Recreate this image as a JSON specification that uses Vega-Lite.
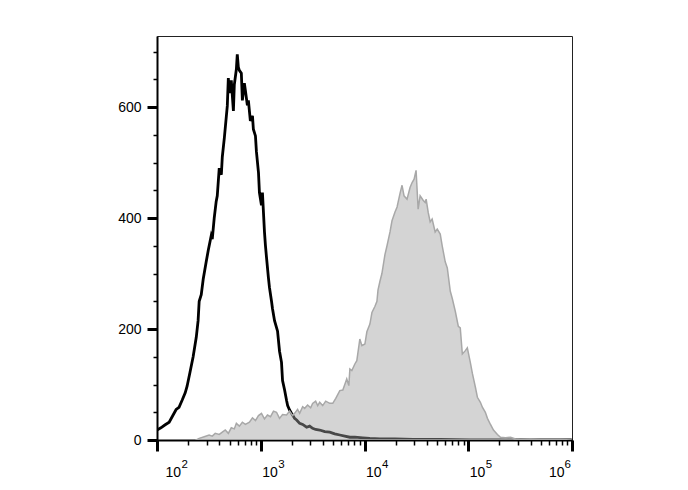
{
  "$schema": "https://vega.github.io/schema/vega-lite/v6.json",
  "autosize": "none",
  "width": 415,
  "height": 404,
  "padding": {"left": 157, "top": 36, "right": 116, "bottom": 50},
  "background": "white",
  "config": {
    "view": {"stroke": "#222222", "strokeWidth": 1},
    "font": "Liberation Sans"
  },
  "datasets": {
    "iso": [
      {"fl": 100, "n": 18}, {"fl": 109, "n": 22}, {"fl": 119, "n": 27}, {"fl": 131, "n": 32},
      {"fl": 143, "n": 45}, {"fl": 153, "n": 55}, {"fl": 163, "n": 59}, {"fl": 175, "n": 72},
      {"fl": 187, "n": 85}, {"fl": 195, "n": 97}, {"fl": 208, "n": 122}, {"fl": 223, "n": 150},
      {"fl": 239, "n": 185}, {"fl": 249, "n": 215}, {"fl": 255, "n": 250}, {"fl": 267, "n": 262},
      {"fl": 279, "n": 290}, {"fl": 298, "n": 321}, {"fl": 312, "n": 342}, {"fl": 333, "n": 368},
      {"fl": 341, "n": 362}, {"fl": 356, "n": 400}, {"fl": 372, "n": 430}, {"fl": 381, "n": 440},
      {"fl": 398, "n": 490}, {"fl": 417, "n": 478}, {"fl": 426, "n": 510}, {"fl": 446, "n": 545},
      {"fl": 476, "n": 602}, {"fl": 487, "n": 652}, {"fl": 498, "n": 625}, {"fl": 520, "n": 648},
      {"fl": 545, "n": 593}, {"fl": 556, "n": 640}, {"fl": 582, "n": 668}, {"fl": 594, "n": 695},
      {"fl": 608, "n": 672}, {"fl": 622, "n": 666}, {"fl": 650, "n": 661}, {"fl": 665, "n": 612},
      {"fl": 695, "n": 643}, {"fl": 711, "n": 630}, {"fl": 743, "n": 603}, {"fl": 760, "n": 612},
      {"fl": 794, "n": 575}, {"fl": 832, "n": 584}, {"fl": 849, "n": 560}, {"fl": 889, "n": 548},
      {"fl": 908, "n": 520}, {"fl": 951, "n": 482}, {"fl": 971, "n": 446}, {"fl": 1016, "n": 423},
      {"fl": 1038, "n": 446}, {"fl": 1086, "n": 375}, {"fl": 1109, "n": 351}, {"fl": 1135, "n": 330},
      {"fl": 1186, "n": 292}, {"fl": 1213, "n": 275}, {"fl": 1270, "n": 250}, {"fl": 1297, "n": 237},
      {"fl": 1358, "n": 215}, {"fl": 1452, "n": 196}, {"fl": 1517, "n": 160}, {"fl": 1585, "n": 140},
      {"fl": 1622, "n": 107}, {"fl": 1698, "n": 90}, {"fl": 1774, "n": 71}, {"fl": 1816, "n": 62},
      {"fl": 1897, "n": 54}, {"fl": 1982, "n": 48}, {"fl": 2075, "n": 42}, {"fl": 2118, "n": 39},
      {"fl": 2218, "n": 36}, {"fl": 2371, "n": 30}, {"fl": 2535, "n": 28}, {"fl": 2767, "n": 23},
      {"fl": 2958, "n": 25}, {"fl": 3162, "n": 21}, {"fl": 3381, "n": 19}, {"fl": 3698, "n": 18},
      {"fl": 4140, "n": 15}, {"fl": 4624, "n": 14}, {"fl": 5164, "n": 11}, {"fl": 5781, "n": 9},
      {"fl": 6457, "n": 7}, {"fl": 7228, "n": 5}, {"fl": 8072, "n": 5}, {"fl": 9638, "n": 4},
      {"fl": 11272, "n": 3}, {"fl": 14090, "n": 2}, {"fl": 19680, "n": 2}, {"fl": 29380, "n": 1},
      {"fl": 53700, "n": 1}, {"fl": 104700, "n": 0}, {"fl": 995000, "n": 0}
    ],
    "stain": [
      {"fl": 239, "n": 0}, {"fl": 255, "n": 3}, {"fl": 285, "n": 6}, {"fl": 318, "n": 9},
      {"fl": 341, "n": 7}, {"fl": 364, "n": 12}, {"fl": 398, "n": 10}, {"fl": 426, "n": 14},
      {"fl": 455, "n": 18}, {"fl": 487, "n": 12}, {"fl": 520, "n": 22}, {"fl": 556, "n": 20},
      {"fl": 582, "n": 30}, {"fl": 622, "n": 25}, {"fl": 665, "n": 32}, {"fl": 711, "n": 28},
      {"fl": 778, "n": 32}, {"fl": 832, "n": 40}, {"fl": 889, "n": 35}, {"fl": 951, "n": 44},
      {"fl": 1016, "n": 48}, {"fl": 1086, "n": 38}, {"fl": 1161, "n": 45}, {"fl": 1242, "n": 42},
      {"fl": 1327, "n": 52}, {"fl": 1419, "n": 50}, {"fl": 1517, "n": 39}, {"fl": 1622, "n": 46},
      {"fl": 1774, "n": 45}, {"fl": 1897, "n": 52}, {"fl": 2028, "n": 44}, {"fl": 2118, "n": 48},
      {"fl": 2265, "n": 55}, {"fl": 2371, "n": 48}, {"fl": 2535, "n": 60}, {"fl": 2649, "n": 57},
      {"fl": 2831, "n": 63}, {"fl": 3027, "n": 58}, {"fl": 3162, "n": 66}, {"fl": 3381, "n": 70},
      {"fl": 3540, "n": 62}, {"fl": 3698, "n": 68}, {"fl": 3954, "n": 62}, {"fl": 4227, "n": 70},
      {"fl": 4624, "n": 66}, {"fl": 4943, "n": 66}, {"fl": 5284, "n": 75}, {"fl": 5781, "n": 89},
      {"fl": 6180, "n": 90}, {"fl": 6457, "n": 100}, {"fl": 6745, "n": 110}, {"fl": 7063, "n": 98},
      {"fl": 7228, "n": 128}, {"fl": 7551, "n": 125}, {"fl": 8072, "n": 137}, {"fl": 8433, "n": 143},
      {"fl": 9016, "n": 182}, {"fl": 9441, "n": 170}, {"fl": 10090, "n": 173}, {"fl": 10540, "n": 195},
      {"fl": 11272, "n": 209}, {"fl": 11800, "n": 230}, {"fl": 12620, "n": 241}, {"fl": 13180, "n": 250},
      {"fl": 13490, "n": 270}, {"fl": 14090, "n": 286}, {"fl": 14720, "n": 300}, {"fl": 15740, "n": 334},
      {"fl": 16480, "n": 350}, {"fl": 17620, "n": 375}, {"fl": 18410, "n": 395}, {"fl": 19680, "n": 411},
      {"fl": 20610, "n": 420}, {"fl": 22030, "n": 445}, {"fl": 23010, "n": 459}, {"fl": 24050, "n": 440},
      {"fl": 25700, "n": 434}, {"fl": 27480, "n": 455}, {"fl": 28770, "n": 464}, {"fl": 30060, "n": 470},
      {"fl": 31410, "n": 486}, {"fl": 32890, "n": 416}, {"fl": 34360, "n": 440}, {"fl": 36730, "n": 432},
      {"fl": 38460, "n": 428}, {"fl": 39270, "n": 434}, {"fl": 41110, "n": 410}, {"fl": 42950, "n": 393},
      {"fl": 44870, "n": 398}, {"fl": 47970, "n": 375}, {"fl": 50230, "n": 380}, {"fl": 53700, "n": 371},
      {"fl": 56100, "n": 350}, {"fl": 59980, "n": 321}, {"fl": 62810, "n": 310}, {"fl": 67140, "n": 268},
      {"fl": 70150, "n": 255}, {"fl": 74990, "n": 232}, {"fl": 80170, "n": 205}, {"fl": 83750, "n": 202},
      {"fl": 87700, "n": 155}, {"fl": 93760, "n": 161}, {"fl": 97950, "n": 166}, {"fl": 104700, "n": 140},
      {"fl": 109600, "n": 120}, {"fl": 117200, "n": 95}, {"fl": 122500, "n": 77}, {"fl": 130900, "n": 68},
      {"fl": 136800, "n": 59}, {"fl": 146200, "n": 50}, {"fl": 153100, "n": 39}, {"fl": 163700, "n": 28},
      {"fl": 175000, "n": 18}, {"fl": 191000, "n": 10}, {"fl": 204600, "n": 5}, {"fl": 228600, "n": 4},
      {"fl": 255300, "n": 5}, {"fl": 285800, "n": 2}, {"fl": 319200, "n": 1}, {"fl": 399000, "n": 2},
      {"fl": 498900, "n": 1}, {"fl": 623700, "n": 1}, {"fl": 778000, "n": 1}, {"fl": 995000, "n": 0}
    ]
  },
  "resolve": {"axis": {"x": "independent", "y": "independent"}},
  "layer": [
    {
      "data": {"name": "iso"},
      "mark": {"type": "line", "color": "black", "strokeWidth": 2.8, "clip": true},
      "encoding": {
        "x": {
          "field": "fl", "type": "quantitative",
          "scale": {"type": "log", "domain": [100, 1000000], "nice": false},
          "axis": {
            "orient": "bottom",
            "title": null,
            "grid": false,
            "values": [100, 1000, 10000, 100000, 1000000],
            "labelExpr": "'10'",
            "labelFontSize": 14,
            "labelColor": "black",
            "labelFont": "Liberation Sans",
            "labelBaseline": "alphabetic",
            "labelPadding": 25,
            "labelFlush": false,
            "labelOverlap": false,
            "labelAlign": {"condition": {"test": "datum.value == 1000000", "value": "right"}, "value": "left"},
            "labelOffset": {"condition": [{"test": "datum.value == 100", "value": 8}, {"test": "datum.value == 1000000", "value": -8}], "value": 1},
            "domainColor": "black",
            "domainWidth": 2,
            "tickColor": "black",
            "tickSize": 11,
            "tickWidth": 3
          }
        },
        "y": {
          "field": "n", "type": "quantitative",
          "scale": {"domain": [0, 728], "nice": false},
          "axis": {
            "orient": "left",
            "title": null,
            "grid": false,
            "values": [0, 200, 400, 600],
            "labelFontSize": 14,
            "labelColor": "black",
            "labelFont": "Liberation Sans",
            "labelPadding": 6,
            "labelOverlap": false,
            "labelFlush": false,
            "domainColor": "black",
            "domainWidth": 2,
            "tickColor": "black",
            "tickSize": 10,
            "tickWidth": 3
          }
        }
      }
    },
    {
      "data": {"name": "stain"},
      "mark": {"type": "area", "color": "#a0a0a0", "fillOpacity": 0.45, "stroke": "#a8a8a8", "strokeWidth": 1.5, "strokeOpacity": 1, "clip": true},
      "encoding": {
        "x": {
          "field": "fl", "type": "quantitative",
          "scale": {"type": "log", "domain": [100, 1000000], "nice": false},
          "axis": {
            "orient": "bottom",
            "title": null,
            "grid": false,
            "domain": false,
            "values": [100, 200, 300, 400, 500, 600, 700, 800, 900,
                       1000, 2000, 3000, 4000, 5000, 6000, 7000, 8000, 9000,
                       10000, 20000, 30000, 40000, 50000, 60000, 70000, 80000, 90000,
                       100000, 200000, 300000, 400000, 500000, 600000, 700000, 800000, 900000, 1000000],
            "labelExpr": "datum.value == 100 ? '2' : datum.value == 1000 ? '3' : datum.value == 10000 ? '4' : datum.value == 100000 ? '5' : datum.value == 1000000 ? '6' : ''",
            "labelFontSize": 11.5,
            "labelColor": "black",
            "labelFont": "Liberation Sans",
            "labelBaseline": "alphabetic",
            "labelPadding": 22,
            "labelFlush": false,
            "labelOverlap": false,
            "labelAlign": "left",
            "labelOffset": {"condition": [{"test": "datum.value == 100", "value": 24}, {"test": "datum.value == 1000000", "value": -8}], "value": 17},
            "tickColor": "black",
            "tickSize": 5,
            "tickWidth": 1.5
          }
        },
        "y": {
          "field": "n", "type": "quantitative",
          "scale": {"domain": [0, 728], "nice": false},
          "axis": {
            "orient": "left",
            "title": null,
            "grid": false,
            "domain": false,
            "labels": false,
            "values": [50, 100, 150, 250, 300, 350, 450, 500, 550, 650, 700],
            "tickColor": "black",
            "tickSize": 4,
            "tickWidth": 1.5
          }
        }
      }
    }
  ]
}
